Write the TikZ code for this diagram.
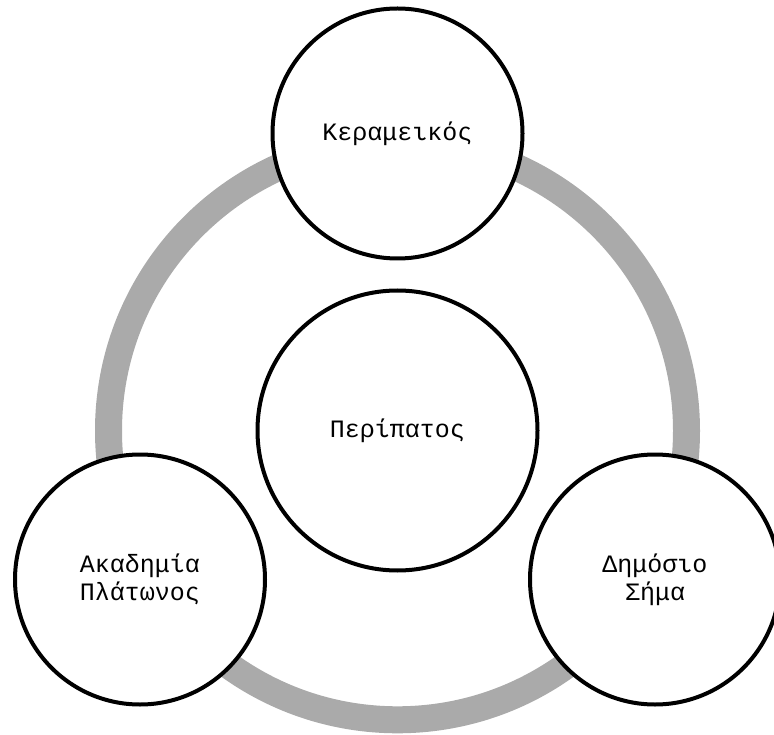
\documentclass[tikz,border=0pt]{standalone}
\usepackage{fontspec}
\setmonofont{Liberation Mono}
\newfontfamily\labelfont{Liberation Mono}
\definecolor{ringgray}{RGB}{170,170,170}
\begin{document}
\begin{tikzpicture}[x=1pt,y=1pt,
  bubble/.style={circle, draw=black, line width=4pt, fill=white, inner sep=0pt,
    minimum size=250pt, align=center, font=\labelfont\fontsize{25}{28}\selectfont},
  hub/.style={bubble, minimum size=280pt}]
\useasboundingbox (0,0) rectangle (774,-735);
\node[circle, draw=ringgray, line width=27pt, minimum size=578pt, inner sep=0pt] (ring) at (397.5,-430.8) {};
\node[bubble] (top) at (397.5,-133.5) {Κεραμεικός};
\node[bubble] (left) at (140,-579.5) {Ακαδημία\\Πλάτωνος};
\node[bubble] (right) at (655,-579.5) {Δημόσιο\\Σήμα};
\node[hub] (center) at (397.5,-430.5) {Περίπατος};
\end{tikzpicture}
\end{document}
